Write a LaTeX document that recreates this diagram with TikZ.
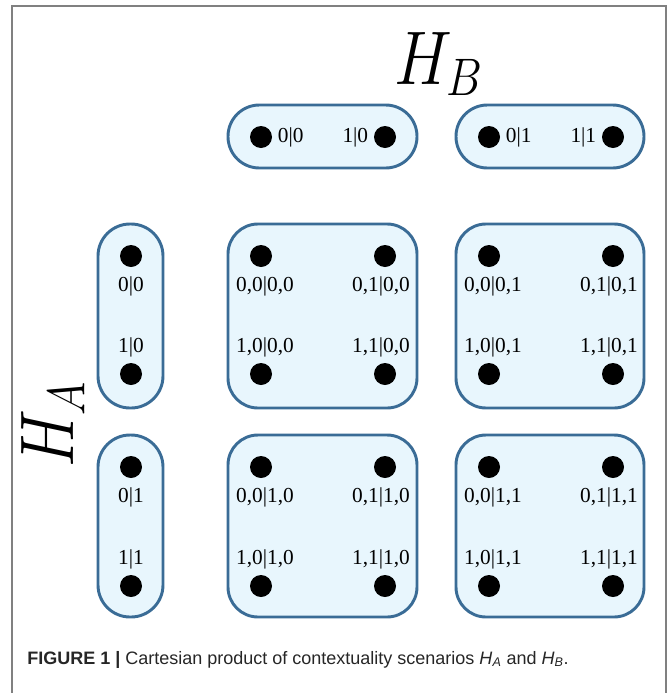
\documentclass[tikz,border=0pt]{standalone}
\usepackage{fontspec}
\usepackage{graphicx}
\usepackage{xcolor}
\usepackage{tikz}
\usetikzlibrary{positioning}
\newfontfamily\lblfont{Liberation Serif}
\newfontfamily\capfont{Liberation Sans}
\DeclareMathSizes{20}{20}{14.5}{10}
\definecolor{pillline}{RGB}{58,108,150}
\definecolor{pillfill}{RGB}{232,246,253}
\definecolor{framegray}{RGB}{128,128,128}

\begin{document}
\begin{tikzpicture}[x=0.75pt, y=-0.75pt,
    pill/.style={draw=pillline, fill=pillfill, line width=2.2pt},
    dot/.style={circle, fill=black, inner sep=0pt, minimum size=16.5pt},
    lbl/.style={inner sep=0pt, font=\lblfont\fontsize{16}{18}\selectfont},
    bigsym/.style={anchor=base west, inner sep=0pt, font=\fontsize{20}{24}\selectfont}]
                \useasboundingbox (0,0) rectangle (668,693);
                % frame of the figure
                \draw[framegray, line width=1.1pt] (12,693) -- (12,6) -- (666,6) -- (666,693);
                \node[bigsym] (hb) at (394,84) {\scalebox{2.35}[2.75]{$H_B$}};
                \node[bigsym, rotate=90] (ha) at (73,468) {\scalebox{2.35}[2.75]{$H_A$}};
                % contexts of H_B
                \draw[pill, rounded corners=23.5pt] (228,105) rectangle (417,168);
                \draw[pill, rounded corners=23.5pt] (456,105) rectangle (644,168);
                \node[dot] (hb00) at (261,137) {};
                \node[dot] (hb10) at (385,137) {};
                \node[dot] (hb01) at (489,137) {};
                \node[dot] (hb11) at (613,137) {};
                \node[lbl, right=4pt of hb00] (lhb00) {0|0};
                \node[lbl, left=4pt of hb10] (lhb10) {1|0};
                \node[lbl, right=4pt of hb01] (lhb01) {0|1};
                \node[lbl, left=4pt of hb11] (lhb11) {1|1};
                % contexts of H_A
                \draw[pill, rounded corners=24pt] (98,224) rectangle (163,408);
                \draw[pill, rounded corners=24pt] (98,435) rectangle (163,617);
                \node[dot] (ha00) at (131,256) {};
                \node[dot] (ha10) at (131,374) {};
                \node[dot] (ha01) at (131,467) {};
                \node[dot] (ha11) at (131,586) {};
                \node[lbl, below=7pt of ha00] (lha00) {0|0};
                \node[lbl, above=4pt of ha10] (lha10) {1|0};
                \node[lbl, below=7pt of ha01] (lha01) {0|1};
                \node[lbl, above=4pt of ha11] (lha11) {1|1};
                % product contexts
                \draw[pill, rounded corners=22.5pt] (228,224) rectangle (417,408);
                \draw[pill, rounded corners=22.5pt] (456,224) rectangle (644,408);
                \draw[pill, rounded corners=22.5pt] (228,435) rectangle (417,617);
                \draw[pill, rounded corners=22.5pt] (456,435) rectangle (644,617);
                \node[dot] (p0000) at (261,256) {};
                \node[dot] (p0100) at (385,256) {};
                \node[dot] (p1000) at (261,374) {};
                \node[dot] (p1100) at (385,374) {};
                \node[dot] (p0001) at (489,256) {};
                \node[dot] (p0101) at (613,256) {};
                \node[dot] (p1001) at (489,374) {};
                \node[dot] (p1101) at (613,374) {};
                \node[dot] (p0010) at (261,467) {};
                \node[dot] (p0110) at (385,467) {};
                \node[dot] (p1010) at (261,586) {};
                \node[dot] (p1110) at (385,586) {};
                \node[dot] (p0011) at (489,467) {};
                \node[dot] (p0111) at (613,467) {};
                \node[dot] (p1011) at (489,586) {};
                \node[dot] (p1111) at (613,586) {};
                \node[lbl, below=7pt of p0000, xshift=3pt] (lp0000) {0,0|0,0};
                \node[lbl, below=7pt of p0100, xshift=-3pt] (lp0100) {0,1|0,0};
                \node[lbl, above=4pt of p1000, xshift=3pt] (lp1000) {1,0|0,0};
                \node[lbl, above=4pt of p1100, xshift=-3pt] (lp1100) {1,1|0,0};
                \node[lbl, below=7pt of p0001, xshift=3pt] (lp0001) {0,0|0,1};
                \node[lbl, below=7pt of p0101, xshift=-3pt] (lp0101) {0,1|0,1};
                \node[lbl, above=4pt of p1001, xshift=3pt] (lp1001) {1,0|0,1};
                \node[lbl, above=4pt of p1101, xshift=-3pt] (lp1101) {1,1|0,1};
                \node[lbl, below=7pt of p0010, xshift=3pt] (lp0010) {0,0|1,0};
                \node[lbl, below=7pt of p0110, xshift=-3pt] (lp0110) {0,1|1,0};
                \node[lbl, above=4pt of p1010, xshift=3pt] (lp1010) {1,0|1,0};
                \node[lbl, above=4pt of p1110, xshift=-3pt] (lp1110) {1,1|1,0};
                \node[lbl, below=7pt of p0011, xshift=3pt] (lp0011) {0,0|1,1};
                \node[lbl, below=7pt of p0111, xshift=-3pt] (lp0111) {0,1|1,1};
                \node[lbl, above=4pt of p1011, xshift=3pt] (lp1011) {1,0|1,1};
                \node[lbl, above=4pt of p1111, xshift=-3pt] (lp1111) {1,1|1,1};
                % caption
                \node[anchor=base west, inner sep=0pt, text=black!85, font=\capfont\fontsize{13.5}{16}\selectfont] (cap) at (27,664)
                    {\textbf{FIGURE 1 |} Cartesian product of contextuality scenarios \textit{H}\textsubscript{\textit{A}} and \textit{H}\textsubscript{\textit{B}}.};
            \end{tikzpicture}
\end{document}
